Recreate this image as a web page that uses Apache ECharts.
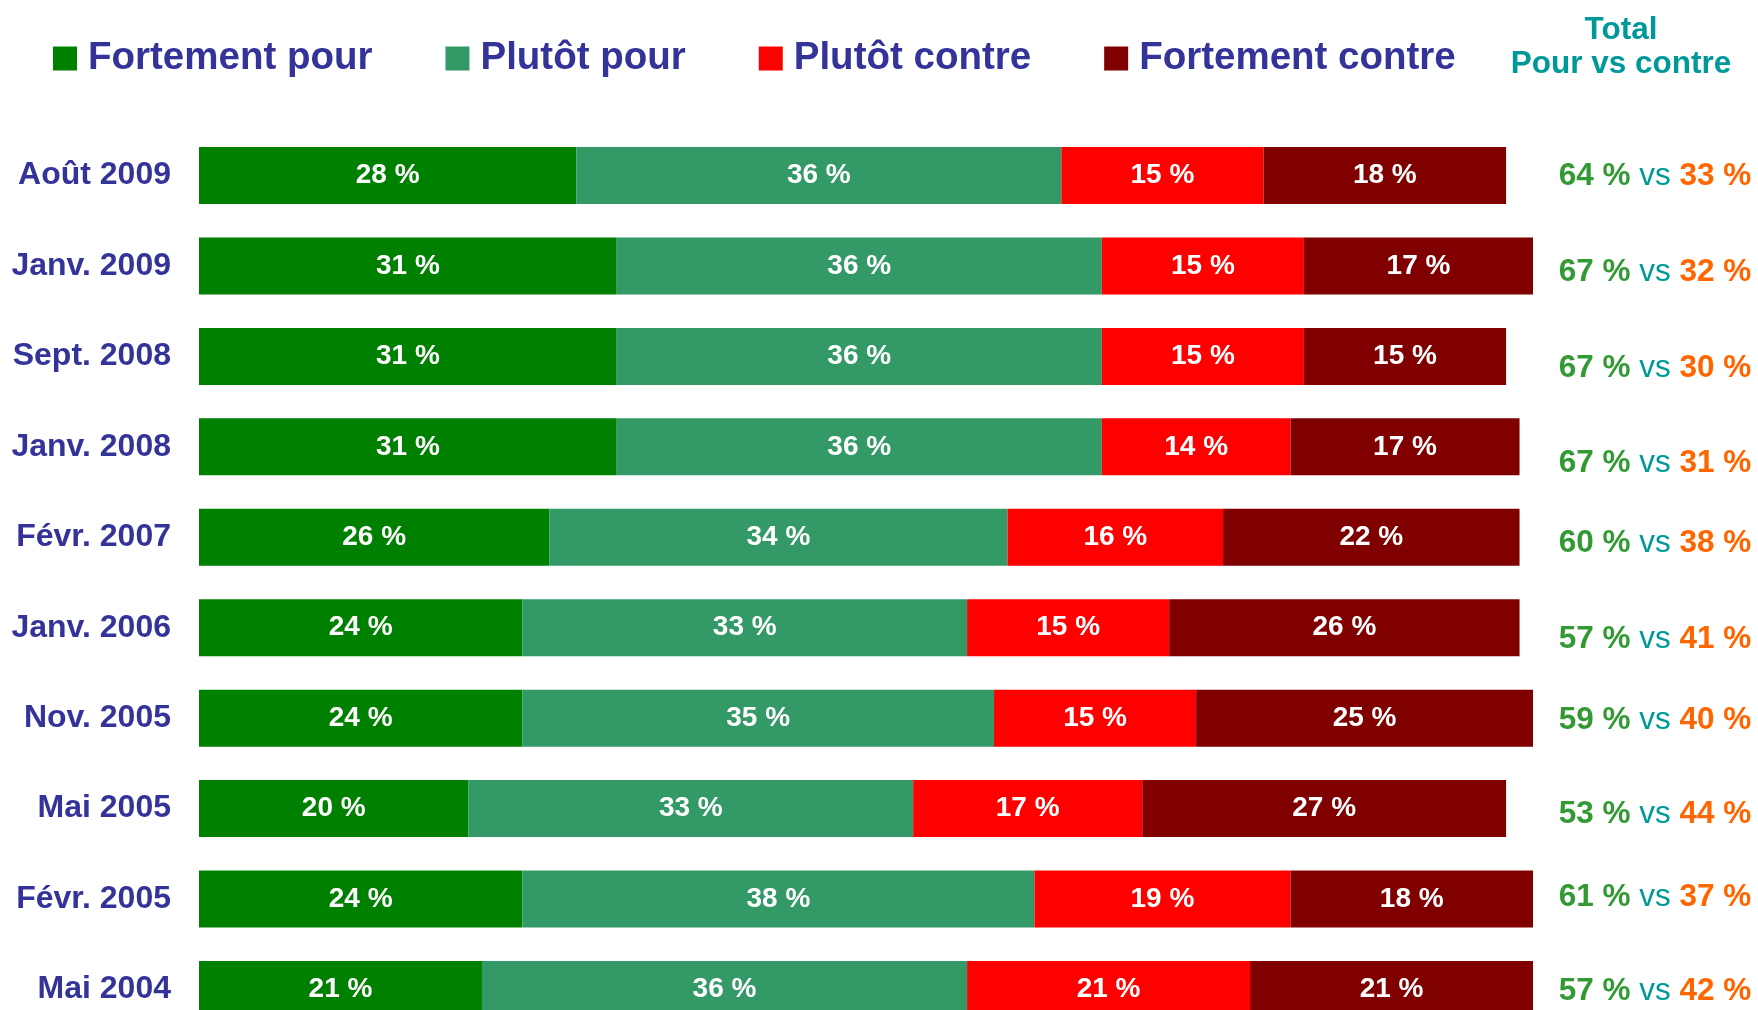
<!DOCTYPE html>
<html>
<head>
    <meta charset="utf-8">
    <title>Pour ou contre</title>
    <script type="text/javascript" src="https://cdn.jsdelivr.net/npm/echarts@6/dist/echarts.min.js"></script>
    <style>
        body { margin: 0; background: #fff; }
    </style>
</head>
<body>
<div id="chartmain" style="width:1758px; height:1010px;"></div>

<script type="text/javascript">
    // les données
    var categories = ['Août 2009', 'Janv. 2009', 'Sept. 2008', 'Janv. 2008', 'Févr. 2007',
        'Janv. 2006', 'Nov. 2005', 'Mai 2005', 'Févr. 2005', 'Mai 2004'];
    var fortementPour = [28, 31, 31, 31, 26, 24, 24, 20, 24, 21];
    var plutotPour = [36, 36, 36, 36, 34, 33, 35, 33, 38, 36];
    var plutotContre = [15, 15, 15, 14, 16, 15, 15, 17, 19, 21];
    var fortementContre = [18, 17, 15, 17, 22, 26, 25, 27, 18, 21];
    var totalPour = [64, 67, 67, 67, 60, 57, 59, 53, 61, 57];
    var totalContre = [33, 32, 30, 31, 38, 41, 40, 44, 37, 42];

    // petit décalage vertical des totaux (comme sur la diapo)
    var totalNudge = [1, 6, 12, 16, 6, 12, 2, 6, -2, 2];

    var font = '"Liberation Sans", Arial, sans-serif';

    function barSerie(name, data, color) {
        return {
            name: name,
            type: 'bar',
            stack: 'total',
            barWidth: 57,
            data: data,
            itemStyle: { color: color },
            label: {
                show: true,
                position: 'inside',
                formatter: '{c} %',
                color: '#fff',
                fontFamily: font,
                fontWeight: 'bold',
                fontSize: 28
            }
        };
    }

    var option = {
        animation: false,
        title: {
            text: 'Total\nPour vs contre',
            left: 1621,
            top: 13,
            padding: 0,
            textAlign: 'center',
            textStyle: {
                color: '#009999',
                fontFamily: font,
                fontWeight: 'bold',
                fontSize: 31.5,
                lineHeight: 34
            }
        },
        legend: {
            data: ['Fortement pour', 'Plutôt pour', 'Plutôt contre', 'Fortement contre'],
            left: 53,
            top: 39,
            padding: 0,
            icon: 'rect',
            itemWidth: 24,
            itemHeight: 24,
            itemGap: 73,
            textStyle: {
                color: '#333399',
                fontFamily: font,
                fontWeight: 'bold',
                fontSize: 38.5,
                padding: [0, 0, 0, 6]
            }
        },
        grid: {
            left: 199,
            top: 130.3,
            width: 1347.5,
            height: 904.4,
            outerBoundsMode: 'none',
            containLabel: false
        },
        xAxis: {
            type: 'value',
            min: 0,
            max: 100,
            show: false,
            splitLine: { show: false }
        },
        yAxis: {
            type: 'category',
            data: categories,
            inverse: true,
            axisLine: { show: false },
            axisTick: { show: false },
            axisLabel: {
                margin: 28,
                color: '#333399',
                fontFamily: font,
                fontWeight: 'bold',
                fontSize: 32
            }
        },
        series: [
            barSerie('Fortement pour', fortementPour, '#008000'),
            barSerie('Plutôt pour', plutotPour, '#339966'),
            barSerie('Plutôt contre', plutotContre, '#FF0000'),
            barSerie('Fortement contre', fortementContre, '#800000'),
            {
                name: 'totaux',
                type: 'custom',
                clip: false,
                data: categories.map(function (c, i) {
                    return [0, c, totalPour[i], totalContre[i]];
                }),
                encode: { x: 0, y: 1 },
                renderItem: function (params, api) {
                    var i = params.dataIndex;
                    var pt = api.coord([0, api.value(1)]);
                    return {
                        type: 'text',
                        x: 1655,
                        y: pt[1] + totalNudge[i],
                        style: {
                            text: '{g|' + totalPour[i] + ' %}{v| vs }{o|' + totalContre[i] + ' %}',
                            align: 'center',
                            verticalAlign: 'middle',
                            rich: {
                                g: { fill: '#339933', font: 'bold 31.5px ' + font },
                                v: { fill: '#009999', font: '31.5px ' + font },
                                o: { fill: '#FF6600', font: 'bold 31.5px ' + font }
                            }
                        }
                    };
                }
            }
        ]
    };

    var myChart = echarts.init(document.getElementById('chartmain'));
    myChart.setOption(option);
</script>
</body>
</html>
